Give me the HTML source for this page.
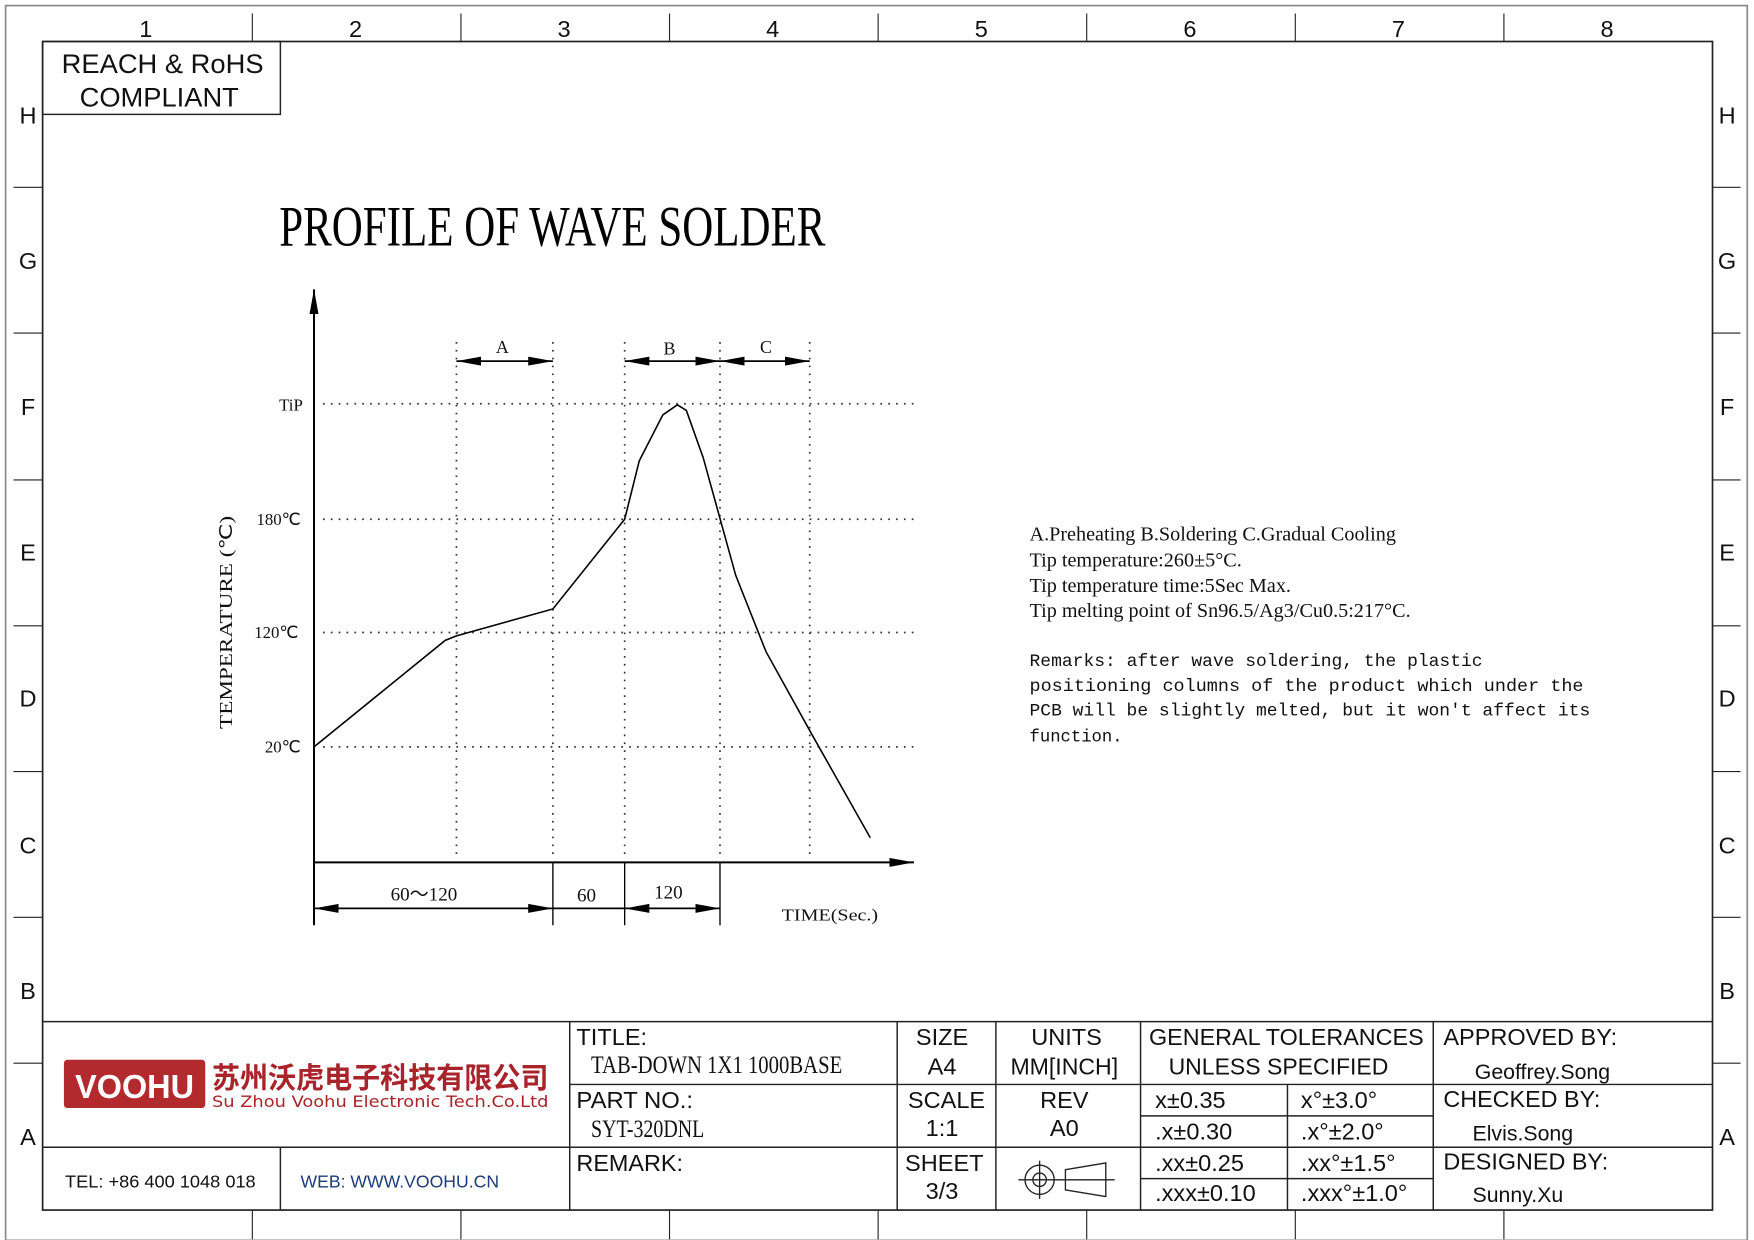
<!DOCTYPE html>
<html><head><meta charset="utf-8"><style>html,body{margin:0;padding:0;background:#fff}svg{display:block}</style></head>
<body>
<svg width="1754" height="1240" viewBox="0 0 1564 1105.7" preserveAspectRatio="none" xmlns="http://www.w3.org/2000/svg">
<defs>
<marker id="ab" viewBox="0 0 22 8" refX="22" refY="4" markerWidth="22" markerHeight="8" markerUnits="userSpaceOnUse" orient="auto-start-reverse"><path d="M0,0L22,4L0,8z" fill="#000"/></marker>
</defs>
<g fill="none" stroke="#222">
<rect x="5" y="5" width="1553" height="1101" stroke="#888" stroke-width="1.5"/>
<rect x="38" y="37" width="1489" height="1042" stroke-width="1.5"/>
<path d="M225 12V37M411 12V37M597 12V37M783 12V37M969 12V37M1155 12V37M1341 12V37M225 1079V1105M411 1079V1105M597 1079V1105M783 1079V1105M969 1079V1105M1155 1079V1105M1341 1079V1105" stroke-width="1"/>
<path d="M12 167H38M12 297H38M12 428H38M12 558H38M12 688H38M12 818H38M12 948H38M1527 167H1552M1527 297H1552M1527 428H1552M1527 558H1552M1527 688H1552M1527 818H1552M1527 948H1552" stroke-width="1"/>
<rect x="38" y="37" width="212" height="65" stroke-width="1.3"/>
</g>
<g font-family="Liberation Sans, sans-serif" font-size="21" fill="#111" text-anchor="middle">
<text x="130" y="33">1</text><text x="317" y="33">2</text><text x="503" y="33">3</text><text x="689" y="33">4</text><text x="875" y="33">5</text><text x="1061" y="33">6</text><text x="1247" y="33">7</text><text x="1433" y="33">8</text>
<text x="25" y="110">H</text><text x="25" y="240">G</text><text x="25" y="370">F</text><text x="25" y="500">E</text><text x="25" y="630">D</text><text x="25" y="761">C</text><text x="25" y="891">B</text><text x="25" y="1021">A</text>
<text x="1540" y="110">H</text><text x="1540" y="240">G</text><text x="1540" y="370">F</text><text x="1540" y="500">E</text><text x="1540" y="630">D</text><text x="1540" y="761">C</text><text x="1540" y="891">B</text><text x="1540" y="1021">A</text>
<text x="145" y="65" font-size="24" textLength="180" lengthAdjust="spacingAndGlyphs">REACH &amp; RoHS</text>
<text x="142" y="95" font-size="24" textLength="142" lengthAdjust="spacingAndGlyphs">COMPLIANT</text>
</g>
<text transform="translate(249,219) scale(1,1.35)" font-family="Liberation Serif, serif" font-size="38" textLength="487" lengthAdjust="spacingAndGlyphs">PROFILE OF WAVE SOLDER</text>

<g stroke="#000" fill="none">
<line x1="280" y1="825" x2="280" y2="258" stroke-width="1.8" marker-end="url(#ab)"/>
<line x1="280" y1="769" x2="815" y2="769" stroke-width="1.8" marker-end="url(#ab)"/>
<g stroke-width="1.5" stroke-dasharray="1.5 5.5" stroke="#333">
<path d="M288 360H818M288 463H818M288 564H818M288 666H818"/>
<path d="M407 305V765M493 305V765M557 305V765M642 305V765M722 305V765"/>
</g>
<polyline stroke-width="1.4" points="280,666 397,571 407,567 493,543 557,463 570,411 591,370 604,361 612,366 627,408 656,513 683,581 724,655 776,747"/>
<path d="M493 769V825M557 769V825M642 769V825" stroke-width="1.2"/>
<g stroke-width="1.5">
<line x1="407" y1="322" x2="493" y2="322" marker-start="url(#ab)" marker-end="url(#ab)"/>
<line x1="557" y1="322" x2="642" y2="322" marker-start="url(#ab)" marker-end="url(#ab)"/>
<line x1="642" y1="322" x2="722" y2="322" marker-start="url(#ab)" marker-end="url(#ab)"/>
<line x1="280" y1="810" x2="493" y2="810" marker-start="url(#ab)" marker-end="url(#ab)"/>
<line x1="493" y1="810" x2="557" y2="810"/>
<line x1="557" y1="810" x2="642" y2="810" marker-start="url(#ab)" marker-end="url(#ab)"/>
</g>
</g>
<g font-family="Liberation Serif, serif" font-size="16" fill="#111">
<text x="448" y="315" text-anchor="middle">A</text><text x="597" y="316" text-anchor="middle">B</text><text x="683" y="315" text-anchor="middle">C</text>
<text x="270" y="366" text-anchor="end" font-size="15">TiP</text>
<text x="268" y="468" text-anchor="end" font-size="15">180℃</text>
<text x="266" y="569" text-anchor="end" font-size="15">120℃</text>
<text x="268" y="671" text-anchor="end" font-size="15">20℃</text>
<text x="378" y="803" text-anchor="middle" font-size="17">60～120</text>
<text x="523" y="804" text-anchor="middle" font-size="17">60</text>
<text x="596" y="801" text-anchor="middle" font-size="17">120</text>
<text x="697" y="821" font-size="15" textLength="86" lengthAdjust="spacingAndGlyphs">TIME(Sec.)</text>
<text transform="translate(207,555) rotate(-90)" text-anchor="middle" font-size="16" textLength="190" lengthAdjust="spacingAndGlyphs">TEMPERATURE (℃)</text>
</g>
<g font-family="Liberation Serif, serif" font-size="18" fill="#111">
<text x="918" y="482">A.Preheating  B.Soldering  C.Gradual Cooling</text>
<text x="918" y="505">Tip temperature:260±5°C.</text>
<text x="918" y="528">Tip temperature time:5Sec Max.</text>
<text x="918" y="550">Tip melting point of Sn96.5/Ag3/Cu0.5:217°C.</text>
</g>
<g font-family="Liberation Mono, monospace" font-size="16" fill="#111">
<text x="918" y="594" textLength="404" lengthAdjust="spacingAndGlyphs">Remarks: after wave soldering, the plastic</text>
<text x="918" y="616" textLength="494" lengthAdjust="spacingAndGlyphs">positioning columns of the product  which under the</text>
<text x="918" y="638" textLength="500" lengthAdjust="spacingAndGlyphs">PCB will be slightly melted, but it won't affect its</text>
<text x="918" y="661" textLength="83" lengthAdjust="spacingAndGlyphs">function.</text>
</g>

<g fill="none" stroke="#222" stroke-width="1.3">
<path d="M38 911H1527M508 967H1527M38 1023H1527M1017 995H1278M1017 1051H1278"/>
<path d="M508 911V1079M800 911V1079M888 911V1079M1017 911V1079M1148 967V1079M1278 911V1079M250 1023V1079"/>
</g>
<rect x="57" y="945" width="126" height="43" rx="3" fill="#b22a2e"/>
<text x="120" y="979" text-anchor="middle" font-family="Liberation Sans, sans-serif" font-weight="bold" font-size="30" fill="#fff" textLength="106" lengthAdjust="spacingAndGlyphs">VOOHU</text>
<text x="189" y="970" font-family="Liberation Sans, Noto Sans CJK SC, sans-serif" font-weight="bold" font-size="26" fill="#a8242a" textLength="300" lengthAdjust="spacingAndGlyphs">苏州沃虎电子科技有限公司</text>
<text x="189" y="987" font-family="DejaVu Sans, sans-serif" font-size="14" fill="#a8242a" textLength="300" lengthAdjust="spacingAndGlyphs">Su Zhou Voohu Electronic Tech.Co.Ltd</text>
<g font-family="Liberation Sans, sans-serif" font-size="16">
<text x="58" y="1059" fill="#111" textLength="170" lengthAdjust="spacingAndGlyphs">TEL: +86 400 1048 018</text>
<text x="268" y="1059" fill="#1e3c7a" textLength="177" lengthAdjust="spacingAndGlyphs">WEB: WWW.VOOHU.CN</text>
</g>
<g font-family="Liberation Serif, serif" font-size="19" fill="#111">
<text transform="translate(527,957) scale(1,1.2)" textLength="224" lengthAdjust="spacingAndGlyphs">TAB-DOWN 1X1 1000BASE</text>
<text transform="translate(527,1014) scale(1,1.2)" textLength="101" lengthAdjust="spacingAndGlyphs">SYT-320DNL</text>
</g>
<g font-family="Liberation Sans, sans-serif" font-size="21" fill="#111">
<text x="514" y="932" textLength="63" lengthAdjust="spacingAndGlyphs">TITLE:</text>
<text x="514" y="988" textLength="104" lengthAdjust="spacingAndGlyphs">PART NO.:</text>
<text x="514" y="1044" textLength="95" lengthAdjust="spacingAndGlyphs">REMARK:</text>
<g text-anchor="middle">
<text x="840" y="932">SIZE</text><text x="840" y="958">A4</text>
<text x="844" y="988">SCALE</text><text x="840" y="1013">1:1</text>
<text x="842" y="1044">SHEET</text><text x="840" y="1069">3/3</text>
<text x="951" y="932">UNITS</text><text x="949" y="958" textLength="96" lengthAdjust="spacingAndGlyphs">MM[INCH]</text>
<text x="949" y="988">REV</text><text x="949" y="1013">A0</text>
<text x="1147" y="932" textLength="245" lengthAdjust="spacingAndGlyphs">GENERAL TOLERANCES</text>
<text x="1140" y="958" textLength="196" lengthAdjust="spacingAndGlyphs">UNLESS SPECIFIED</text>
</g>
<text x="1030" y="988">x±0.35</text><text x="1160" y="988">x°±3.0°</text>
<text x="1030" y="1016">.x±0.30</text><text x="1160" y="1016">.x°±2.0°</text>
<text x="1030" y="1044">.xx±0.25</text><text x="1160" y="1044">.xx°±1.5°</text>
<text x="1030" y="1071">.xxx±0.10</text><text x="1160" y="1071">.xxx°±1.0°</text>
<text x="1287" y="932" textLength="155" lengthAdjust="spacingAndGlyphs">APPROVED BY:</text>
<text x="1315" y="962" font-size="19">Geoffrey.Song</text>
<text x="1287" y="987" textLength="140" lengthAdjust="spacingAndGlyphs">CHECKED BY:</text>
<text x="1313" y="1017" font-size="19">Elvis.Song</text>
<text x="1287" y="1043" textLength="147" lengthAdjust="spacingAndGlyphs">DESIGNED BY:</text>
<text x="1313" y="1072" font-size="19">Sunny.Xu</text>
</g>
<g fill="none" stroke="#222" stroke-width="1.2">
<circle cx="927" cy="1052" r="13"/><circle cx="927" cy="1052" r="6"/>
<path d="M908 1052H994M927 1035V1069M950 1043L986 1037V1067L950 1061Z"/>
</g>
</svg>
</body></html>
